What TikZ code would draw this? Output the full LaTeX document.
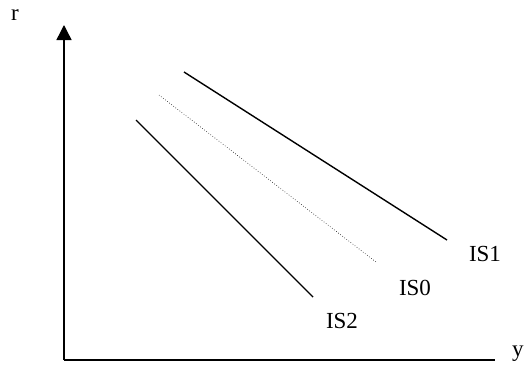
\documentclass[tikz,border=0pt]{standalone}
\usepackage{fontspec}
\setmainfont{Liberation Serif}
\usetikzlibrary{arrows.meta}
\begin{document}
\begin{tikzpicture}[x=1pt,y=-1pt,
  lbl/.style={font=\fontsize{23}{23}\selectfont, inner sep=0pt},
  curve/.style={line width=1.4pt},
  axis/.style={line width=1.4pt}]
\useasboundingbox (0,0) rectangle (524,364);
\coordinate (o) at (64,360);
\coordinate (ytop) at (64,25);
\coordinate (xend) at (495,360);
\draw[axis,-{Triangle[length=15pt,width=15pt]}] (o) -- (ytop);
\draw[axis] (o) -- (xend);
\node[lbl,anchor=base] (r) at (15,20) {r};
\node[lbl,anchor=base west] (y) at (512,356) {y};
\coordinate (a1) at (184,72);
\coordinate (b1) at (447,240);
\coordinate (a0) at (159,95);
\coordinate (b0) at (376,262);
\coordinate (a2) at (136,120);
\coordinate (b2) at (313,297);
\draw[curve] (a1) -- (b1);
\draw[line width=0.6pt, dotted] (a0) -- (b0);
\draw[curve] (a2) -- (b2);
\node[lbl] (is1) at (485,254) {IS1};
\node[lbl] (is0) at (415,288) {IS0};
\node[lbl] (is2) at (342,321) {IS2};
\end{tikzpicture}
\end{document}
